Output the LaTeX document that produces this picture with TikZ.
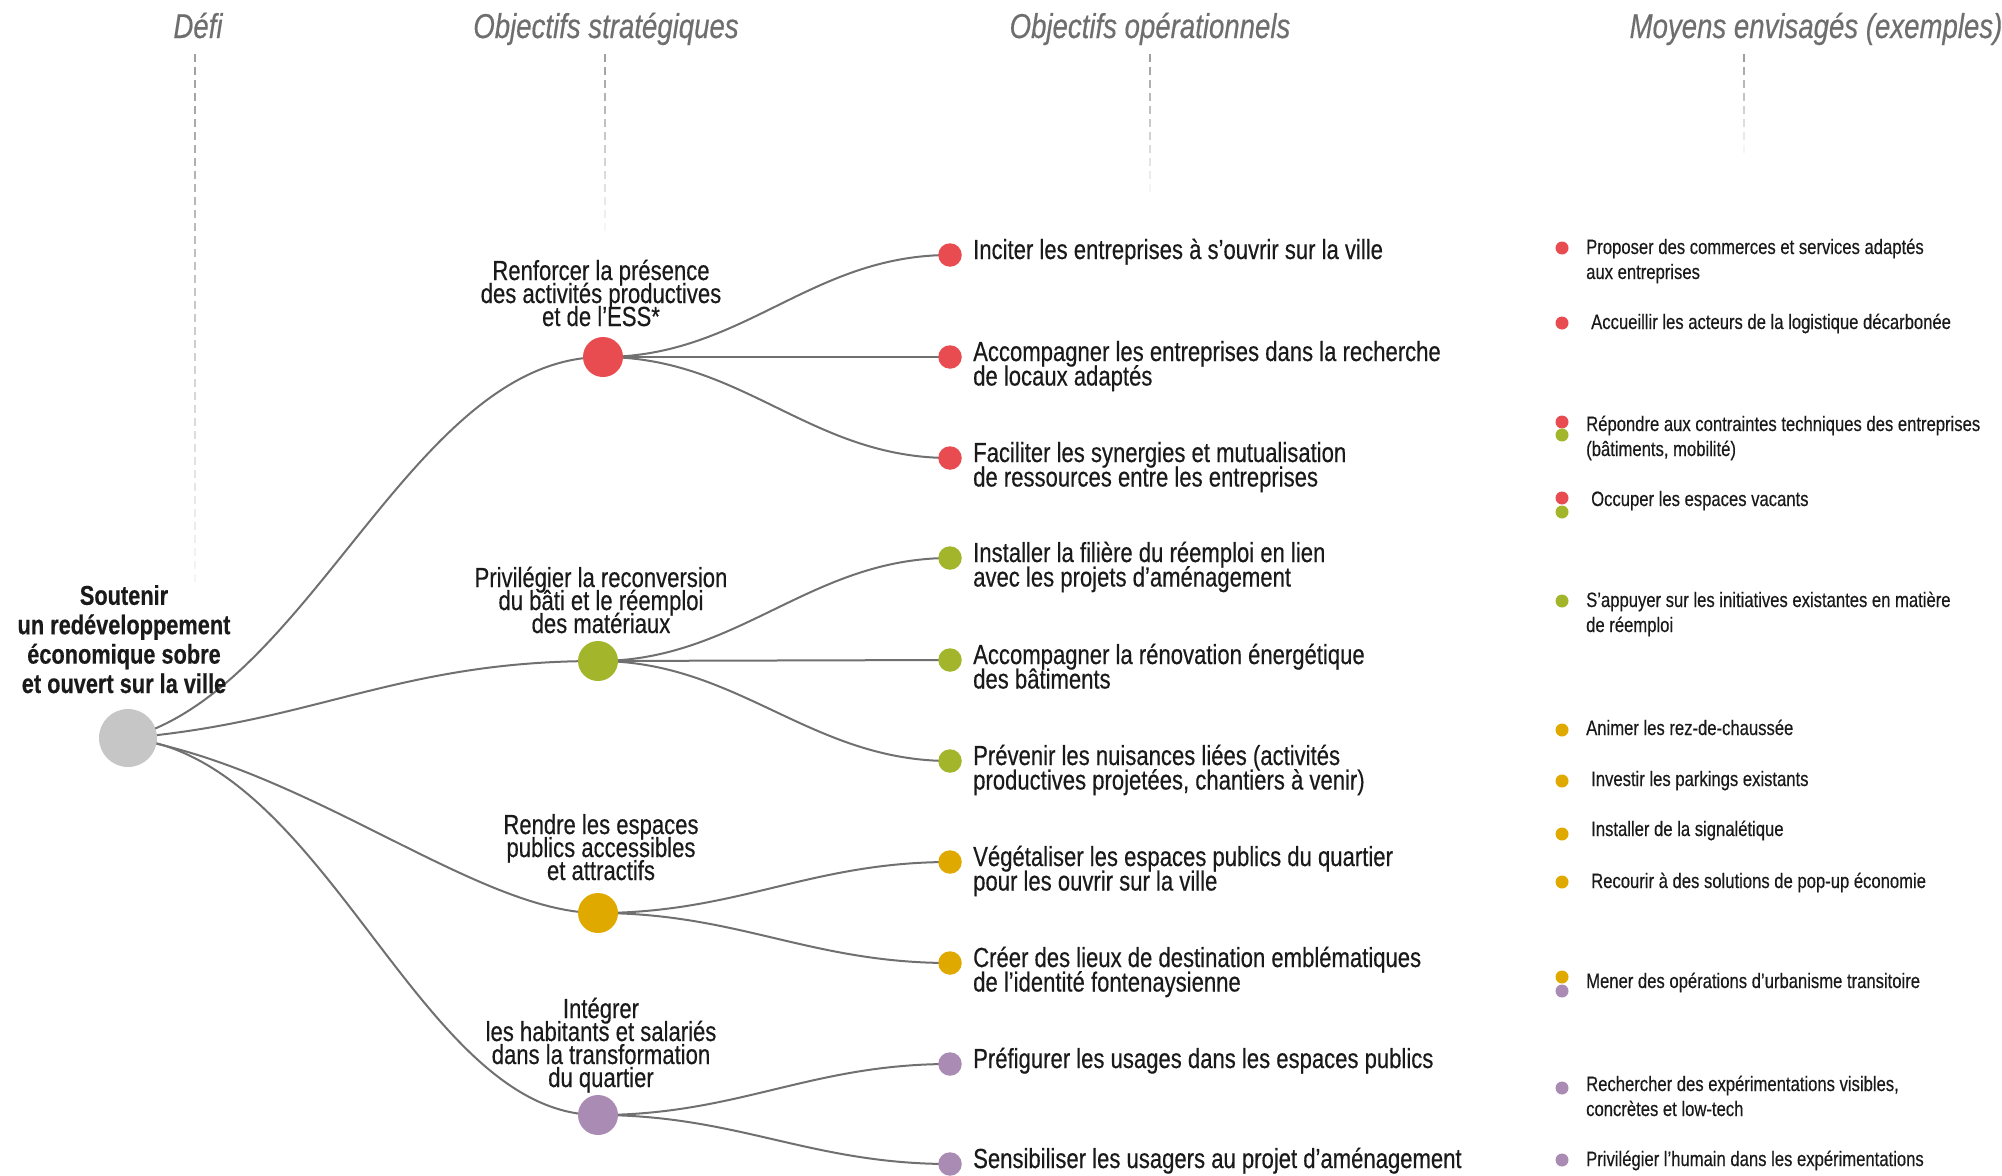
\documentclass[tikz,border=0pt]{standalone}
\usepackage{fontspec}
\setmainfont{Liberation Sans}[FakeStretch=0.8,FakeBold=0.4]
\usetikzlibrary{backgrounds}
\definecolor{cred}{HTML}{E84C50}
\definecolor{cgreen}{HTML}{A3B52A}
\definecolor{cyellow}{HTML}{DFA900}
\definecolor{cpurple}{HTML}{A98BB4}
\definecolor{croot}{HTML}{C6C6C6}
\definecolor{cedge}{HTML}{707070}
\definecolor{chead}{HTML}{6E6E6E}
\definecolor{cdash}{HTML}{9A9A9A}
\definecolor{ctext}{HTML}{1A1A1A}
\newcommand{\cstack}[1]{\vbox{\lineskiplimit=-100pt\halign{\hfil##\hfil\cr#1\crcr}}}
\newcommand{\lstack}[1]{\vtop{\lineskiplimit=-100pt\halign{##\hfil\cr#1\crcr}}}
\newcommand{\fadeline}[3]{%
  \foreach \dd in {0,...,#3}{%
    \pgfmathsetmacro{\yy}{#2+13*\dd}%
    \pgfmathsetmacro{\op}{0.95-0.85*\dd/#3}%
    \draw[cdash,line width=1.8pt,opacity=\op] (#1,\yy) -- ++(0,8);}}
\tikzset{
  big/.style={circle, inner sep=0pt, minimum size=40pt},
  rootdot/.style={circle, inner sep=0pt, minimum size=58pt, fill=croot},
  opdot/.style={circle, inner sep=0pt, minimum size=23.5pt},
  mdot/.style={circle, inner sep=0pt, minimum size=13pt},
  link/.style={draw=cedge, line width=2pt},
  head/.style={font=\fontsize{34.5}{38}\selectfont\itshape, text=chead, anchor=base, inner sep=0pt},
  optext/.style={font=\fontsize{27.6}{24.5}\selectfont, text=ctext, anchor=base west, inner sep=0pt},
  mtext/.style={font=\fontsize{20.8}{25}\selectfont, text=ctext, anchor=base west, inner sep=0pt},
  strat/.style={font=\fontsize{27.6}{23}\selectfont, text=ctext, anchor=base, inner sep=0pt},
  rootlab/.style={font=\fontsize{27.2}{29.4}\selectfont\bfseries, text=ctext, anchor=base, inner sep=0pt},
}
\begin{document}
\begin{tikzpicture}[x=1pt,y=-1pt]
\useasboundingbox (0,0) rectangle (2002,1175);

% headers
\node[head] (h1) at (198,38) {Défi};
\node[head] (h2) at (606,38) {Objectifs stratégiques};
\node[head] (h3) at (1150,38) {Objectifs opérationnels};
\node[head] (h4) at (1816,38) {Moyens envisagés (exemples)};
\fadeline{195}{54}{40}
\fadeline{605}{54}{13}
\fadeline{1150}{54}{10}
\fadeline{1744}{54}{7}

% root
\node[rootdot] (root) at (128,738) {};
\node[rootlab] (rl) at (124,693) {\cstack{Soutenir\cr un redéveloppement\cr économique sobre\cr et ouvert sur la ville}};

% strategic
\node[big, fill=cred] (s1) at (603,357) {};
\node[big, fill=cgreen] (s2) at (598,661) {};
\node[big, fill=cyellow] (s3) at (598,913) {};
\node[big, fill=cpurple] (s4) at (598,1115) {};
\node[strat] (l1) at (601,326) {\cstack{Renforcer la présence\cr des activités productives\cr et de l’ESS*}};
\node[strat] (l2) at (601,633) {\cstack{Privilégier la reconversion\cr du bâti et le réemploi\cr des matériaux}};
\node[strat] (l3) at (601,880) {\cstack{Rendre les espaces\cr publics accessibles\cr et attractifs}};
\node[strat] (l4) at (601,1087) {\cstack{Intégrer\cr les habitants et salariés\cr dans la transformation\cr du quartier}};

% operational
\node[opdot, fill=cred] (o1) at (950,255) {};
\node[opdot, fill=cred] (o2) at (950,357) {};
\node[opdot, fill=cred] (o3) at (950,458) {};
\node[opdot, fill=cgreen] (o4) at (950,558) {};
\node[opdot, fill=cgreen] (o5) at (950,660) {};
\node[opdot, fill=cgreen] (o6) at (950,761) {};
\node[opdot, fill=cyellow] (o7) at (950,862) {};
\node[opdot, fill=cyellow] (o8) at (950,963) {};
\node[opdot, fill=cpurple] (o9) at (950,1064) {};
\node[opdot, fill=cpurple] (o10) at (950,1164) {};

\node[optext] (t1) at (973,259) {Inciter les entreprises à s’ouvrir sur la ville};
\node[optext] (t2) at (973,361) {\lstack{Accompagner les entreprises dans la recherche\cr de locaux adaptés}};
\node[optext] (t3) at (973,462) {\lstack{Faciliter les synergies et mutualisation\cr de ressources entre les entreprises}};
\node[optext] (t4) at (973,562) {\lstack{Installer la filière du réemploi en lien\cr avec les projets d’aménagement}};
\node[optext] (t5) at (973,664) {\lstack{Accompagner la rénovation énergétique\cr des bâtiments}};
\node[optext] (t6) at (973,765) {\lstack{Prévenir les nuisances liées (activités\cr productives projetées, chantiers à venir)}};
\node[optext] (t7) at (973,866) {\lstack{Végétaliser les espaces publics du quartier\cr pour les ouvrir sur la ville}};
\node[optext] (t8) at (973,967) {\lstack{Créer des lieux de destination emblématiques\cr de l’identité fontenaysienne}};
\node[optext] (t9) at (973,1068) {Préfigurer les usages dans les espaces publics};
\node[optext] (t10) at (973,1168) {Sensibiliser les usagers au projet d’aménagement};

% means
\node[mdot, fill=cred] (m1) at (1562,248) {};
\node[mdot, fill=cred] (m2) at (1562,323) {};
\node[mdot, fill=cred] (m3a) at (1562,422) {};
\node[mdot, fill=cgreen] (m3b) at (1562,435) {};
\node[mdot, fill=cred] (m4a) at (1562,498) {};
\node[mdot, fill=cgreen] (m4b) at (1562,512) {};
\node[mdot, fill=cgreen] (m5) at (1562,601) {};
\node[mdot, fill=cyellow] (m6) at (1562,730) {};
\node[mdot, fill=cyellow] (m7) at (1562,781) {};
\node[mdot, fill=cyellow] (m8) at (1562,834) {};
\node[mdot, fill=cyellow] (m9) at (1562,882) {};
\node[mdot, fill=cyellow] (m10a) at (1562,977) {};
\node[mdot, fill=cpurple] (m10b) at (1562,991) {};
\node[mdot, fill=cpurple] (m11) at (1562,1088) {};
\node[mdot, fill=cpurple] (m12) at (1562,1160) {};

\node[mtext] (n1) at (1586,254) {\lstack{Proposer des commerces et services adaptés\cr aux entreprises}};
\node[mtext] (n2) at (1591,329) {Accueillir les acteurs de la logistique décarbonée};
\node[mtext] (n3) at (1586,431) {\lstack{Répondre aux contraintes techniques des entreprises\cr (bâtiments, mobilité)}};
\node[mtext] (n4) at (1591,506) {Occuper les espaces vacants};
\node[mtext] (n5) at (1586,607) {\lstack{S’appuyer sur les initiatives existantes en matière\cr de réemploi}};
\node[mtext] (n6) at (1586,735) {Animer les rez-de-chaussée};
\node[mtext] (n7) at (1591,786) {Investir les parkings existants};
\node[mtext] (n8) at (1591,836) {Installer de la signalétique};
\node[mtext] (n9) at (1591,888) {Recourir à des solutions de pop-up économie};
\node[mtext] (n10) at (1586,988) {Mener des opérations d’urbanisme transitoire};
\node[mtext] (n11) at (1586,1091) {\lstack{Rechercher des expérimentations visibles,\cr concrètes et low-tech}};
\node[mtext] (n12) at (1586,1166) {Privilégier l’humain dans les expérimentations};

% connectors
\begin{scope}[on background layer]
\draw[link] (root.center) .. controls +(184,-49) and +(-190,0) .. (s1.center);
\draw[link] (root.center) .. controls +(188,-16) and +(-200,0) .. (s2.center);
\draw[link] (root.center) .. controls +(180,30) and +(-120,0) .. (s3.center);
\draw[link] (root.center) .. controls +(200,20) and +(-180,0) .. (s4.center);
\draw[link] (s1.center) .. controls +(140,0) and +(-140,0) .. (o1.center);
\draw[link] (s1.center) -- (o2.center);
\draw[link] (s1.center) .. controls +(140,0) and +(-140,0) .. (o3.center);
\draw[link] (s2.center) .. controls +(140,0) and +(-140,0) .. (o4.center);
\draw[link] (s2.center) -- (o5.center);
\draw[link] (s2.center) .. controls +(140,0) and +(-140,0) .. (o6.center);
\draw[link] (s3.center) .. controls +(140,0) and +(-140,0) .. (o7.center);
\draw[link] (s3.center) .. controls +(140,0) and +(-140,0) .. (o8.center);
\draw[link] (s4.center) .. controls +(140,0) and +(-140,0) .. (o9.center);
\draw[link] (s4.center) .. controls +(140,0) and +(-140,0) .. (o10.center);
\end{scope}
\end{tikzpicture}
\end{document}
